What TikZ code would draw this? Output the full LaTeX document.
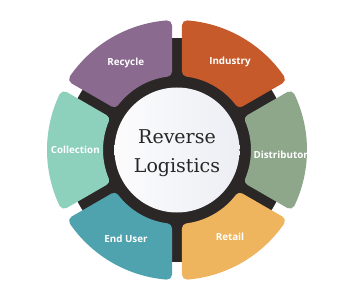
\documentclass[tikz,border=0pt]{standalone}
\usepackage{fontspec}
\newfontfamily\labfont{Open Sans}
\newfontfamily\titlefont{DejaVu Serif}
\definecolor{recy}{HTML}{8B6A90}
\definecolor{indu}{HTML}{C65A2B}
\definecolor{dist}{HTML}{8EA78B}
\definecolor{reta}{HTML}{EFB45E}
\definecolor{endu}{HTML}{4FA3AE}
\definecolor{coll}{HTML}{8DD0BC}
\definecolor{darkring}{HTML}{2B2727}
\definecolor{hubl}{HTML}{FCFCFD}
\definecolor{hubr}{HTML}{ECEEF4}
\definecolor{titlec}{HTML}{262626}
\begin{document}
\begin{tikzpicture}[x=1pt,y=1pt,
  seglab/.style={text=white, font=\labfont\bfseries\fontsize{9.8}{11}\selectfont, text height=7.2pt, text depth=0pt, inner sep=0pt},
  segfill/.style={fill=#1, draw=#1, line width=10pt, line join=round},
  ttl/.style={text=titlec, font=\titlefont\fontsize{19}{23}\selectfont, inner sep=0pt, anchor=base}]
\useasboundingbox (0,0) rectangle (350,300);
\fill[white] (0,0) rectangle (350,300);
\coordinate (c) at (177,150);
\begin{scope}[shift={(c)}]
  \fill[darkring] (0,0) circle[radius=112];
  \foreach \t/\col in {120/recy,60/indu,0/dist,-60/reta,-120/endu,180/coll}{
    \pgfmathsetmacro\aa{\t-30+4.57}
    \pgfmathsetmacro\ab{\t+30-4.57}
    \pgfmathsetmacro\ia{\t+30-7.27}
    \pgfmathsetmacro\ib{\t-30+7.27}
    \path[segfill=\col] (\aa:125) arc[start angle=\aa, end angle=\ab, radius=125]
      -- (\ia:79) arc[start angle=\ia, end angle=\ib, radius=79] -- cycle;
  }
\end{scope}
\node[circle, minimum size=125pt, inner sep=0pt, left color=hubl, right color=hubr] (hub) at (c) {};
\node[ttl] (rev) at (177,156) {Reverse};
\node[ttl] (log) at (177,127.3) {Logistics};
\node[seglab] (recycle) at (125.7,237.7) {Recycle};
\node[seglab] (industry) at (230,238.7) {Industry};
\node[seglab] (distributor) at (280.7,144.7) {Distributor};
\node[seglab] (retail) at (230,62.7) {Retail};
\node[seglab] (enduser) at (126,60.7) {End User};
\node[seglab] (collection) at (75.3,149.7) {Collection};
\end{tikzpicture}
\end{document}
